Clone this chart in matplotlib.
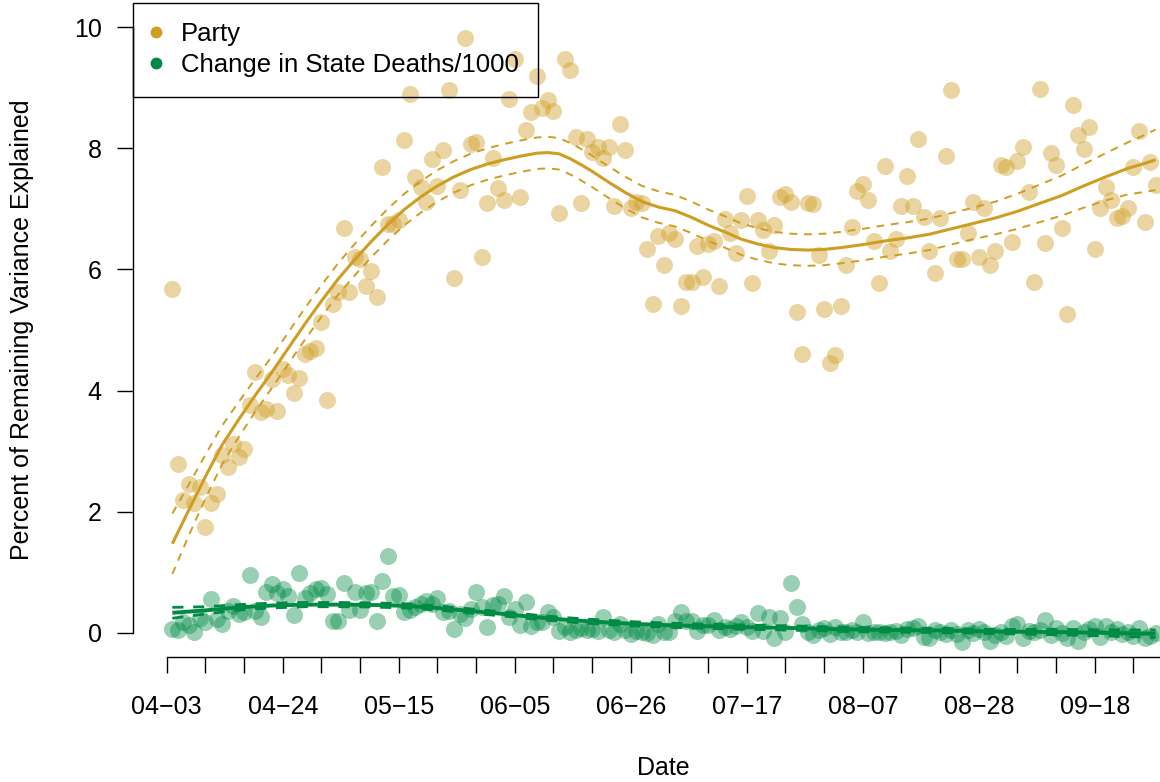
import numpy as np
import matplotlib
matplotlib.use("Agg")
import matplotlib.pyplot as plt
import matplotlib.dates as mdates
from matplotlib.lines import Line2D

plt.rcParams["font.family"] = ["Liberation Sans", "DejaVu Sans"]

# Day 0 of the axis; observations run from day 1 to day 179
START = np.datetime64("2020-04-03")
obs_days = np.arange(1, 180)

# Daily % of remaining variance explained
party_pct = [
    5.67, 2.79, 2.20, 2.45, 2.14, 2.40, 1.75, 2.15, 2.30, 2.93,
    2.74, 3.12, 2.91, 3.03, 3.76, 4.31, 3.65, 3.70, 4.19, 3.67,
    4.35, 4.25, 3.96, 4.21, 4.60, 4.66, 4.71, 5.14, 3.85, 5.43,
    5.63, 6.68, 5.63, 6.20, 6.18, 5.73, 5.98, 5.54, 7.69, 6.75,
    6.75, 6.81, 8.13, 8.90, 7.52, 7.36, 7.11, 7.82, 7.38, 7.97,
    8.97, 5.86, 7.31, 9.82, 8.07, 8.11, 6.20, 7.09, 7.84, 7.34,
    7.15, 8.82, 9.47, 7.20, 8.31, 8.60, 9.19, 8.66, 8.80, 8.62,
    6.94, 9.48, 9.30, 8.19, 7.09, 8.15, 7.94, 8.03, 7.84, 8.03,
    7.05, 8.41, 7.98, 7.01, 7.12, 7.09, 6.33, 5.43, 6.55, 6.08,
    6.60, 6.51, 5.39, 5.79, 5.79, 6.38, 5.87, 6.42, 6.47, 5.73,
    6.83, 6.60, 6.27, 6.81, 7.22, 5.77, 6.81, 6.65, 6.30, 6.74,
    7.20, 7.24, 7.11, 5.29, 4.60, 7.09, 7.08, 6.24, 5.34, 4.45,
    4.59, 5.39, 6.08, 6.70, 7.29, 7.41, 7.14, 6.47, 5.77, 7.71,
    6.31, 6.50, 7.04, 7.54, 7.05, 8.16, 6.87, 6.31, 5.94, 6.85,
    7.87, 8.96, 6.18, 6.18, 6.60, 7.11, 6.20, 7.01, 6.07, 6.30,
    7.72, 7.69, 6.45, 7.79, 8.02, 7.28, 5.79, 8.98, 6.44, 7.93,
    7.72, 6.68, 5.26, 8.71, 8.22, 7.99, 8.35, 6.34, 7.02, 7.36,
    7.14, 6.85, 6.88, 7.02, 7.69, 8.28, 6.79, 7.77, 7.39,
]

deaths_pct = [
    0.06, 0.04, 0.17, 0.13, 0.01, 0.24, 0.17, 0.56, 0.23, 0.15,
    0.36, 0.45, 0.31, 0.34, 0.95, 0.36, 0.26, 0.67, 0.80, 0.65,
    0.72, 0.60, 0.30, 0.99, 0.57, 0.65, 0.72, 0.74, 0.64, 0.19,
    0.19, 0.82, 0.37, 0.68, 0.37, 0.65, 0.68, 0.20, 0.85, 1.26,
    0.60, 0.63, 0.35, 0.37, 0.42, 0.47, 0.52, 0.48, 0.58, 0.34,
    0.36, 0.06, 0.31, 0.25, 0.39, 0.68, 0.43, 0.10, 0.46, 0.48,
    0.60, 0.26, 0.40, 0.13, 0.50, 0.12, 0.17, 0.17, 0.34, 0.26,
    0.03, 0.10, 0.01, 0.04, 0.08, 0.04, 0.06, 0.03, 0.26, 0.04,
    0.01, 0.14, 0.04, -0.02, 0.03, 0.01, -0.01, -0.03, 0.14, 0.02,
    0.02, 0.19, 0.34, 0.20, 0.20, 0.03, 0.13, 0.13, 0.21, 0.04,
    0.10, 0.06, 0.12, 0.17, 0.10, 0.03, 0.32, 0.03, 0.26, -0.09,
    0.24, 0.02, 0.82, 0.43, 0.15, 0.01, -0.03, 0.04, 0.08, -0.02,
    0.10, 0.02, 0.02, 0.04, 0.01, 0.17, -0.01, 0.01, 0.02, -0.01,
    0.01, 0.03, -0.03, 0.06, 0.08, 0.12, -0.07, -0.09, 0.04, 0.01,
    -0.02, 0.04, -0.02, -0.16, 0.04, -0.01, 0.06, 0.01, -0.13, -0.03,
    0.02, -0.05, 0.12, 0.15, -0.09, 0.03, 0.01, 0.04, 0.21, -0.03,
    0.08, -0.01, -0.09, 0.08, -0.13, 0.02, 0.06, 0.12, -0.07, 0.12,
    0.01, 0.06, -0.02, 0.02, -0.05, 0.08, -0.09, -0.05, -0.01,
]

# Smoothed trend with its standard-error band
party_fit_days = [
    1, 4, 7, 10, 13, 16, 19, 22, 25, 28, 31, 34, 37, 40, 43, 46, 49, 52,
    55, 58, 61, 64, 67, 69, 71, 73, 75, 77, 80, 83, 86, 89, 92, 95, 98,
    101, 104, 107, 110, 113, 116, 119, 122, 126, 130, 134, 138, 142, 146,
    150, 154, 158, 162, 166, 170, 174, 177, 179,
]
party_fit = [
    1.47, 2.03, 2.58, 3.10, 3.52, 3.92, 4.30, 4.70, 5.10, 5.48, 5.84, 6.16,
    6.46, 6.74, 6.99, 7.20, 7.38, 7.53, 7.65, 7.74, 7.81, 7.87, 7.92, 7.93,
    7.91, 7.83, 7.73, 7.62, 7.44, 7.27, 7.12, 7.03, 6.97, 6.86, 6.73, 6.62,
    6.50, 6.42, 6.36, 6.33, 6.32, 6.33, 6.36, 6.41, 6.47, 6.52, 6.58, 6.67,
    6.76, 6.85, 6.96, 7.09, 7.22, 7.38, 7.53, 7.67, 7.75, 7.81,
]
party_se = [
    0.50, 0.42, 0.36, 0.32, 0.29, 0.27, 0.26, 0.26, 0.26, 0.26, 0.26, 0.26,
    0.26, 0.26, 0.26, 0.26, 0.26, 0.26, 0.26, 0.26, 0.26, 0.26, 0.26, 0.26,
    0.26, 0.26, 0.26, 0.26, 0.26, 0.26, 0.26, 0.26, 0.26, 0.26, 0.26, 0.26,
    0.26, 0.26, 0.26, 0.26, 0.26, 0.26, 0.26, 0.26, 0.26, 0.26, 0.26, 0.26,
    0.26, 0.27, 0.29, 0.31, 0.33, 0.36, 0.39, 0.43, 0.47, 0.50,
]

deaths_fit_days = [
    1, 7, 13, 19, 25, 31, 37, 43, 49, 55, 61, 67, 73, 79, 85, 91, 97, 103,
    109, 115, 121, 127, 133, 139, 145, 151, 157, 163, 169, 175, 179,
]
deaths_fit = [
    0.33, 0.37, 0.42, 0.45, 0.465, 0.465, 0.46, 0.445, 0.41, 0.36, 0.31,
    0.255, 0.21, 0.175, 0.145, 0.125, 0.11, 0.095, 0.085, 0.075, 0.06, 0.05,
    0.045, 0.04, 0.03, 0.02, 0.015, 0.01, 0.0, -0.01, -0.015,
]
deaths_se = [
    0.09, 0.06, 0.045, 0.04, 0.035, 0.035, 0.035, 0.035, 0.035, 0.035, 0.035,
    0.035, 0.035, 0.035, 0.035, 0.035, 0.035, 0.035, 0.035, 0.035, 0.035,
    0.035, 0.035, 0.035, 0.035, 0.035, 0.04, 0.045, 0.05, 0.055, 0.06,
]

GOLD = "#CF9D22"
GREEN = "#008B45"


def to_dates(days):
    return START + np.asarray(days).astype("timedelta64[D]")


fig = plt.figure(figsize=(11.6, 7.82), dpi=100)
ax = fig.add_axes([133 / 1160, 1 - 657 / 782, 1 - 133 / 1160, (657 - 3) / 782])

ax.scatter(to_dates(obs_days), party_pct, s=150, color=GOLD, alpha=0.42, linewidths=0, zorder=2)
ax.scatter(to_dates(obs_days), deaths_pct, s=150, color=GREEN, alpha=0.4, linewidths=0, zorder=2)

for days, fit, se, col, lw_main, lw_band in [
    (party_fit_days, party_fit, party_se, GOLD, 2.2, 1.4),
    (deaths_fit_days, deaths_fit, deaths_se, GREEN, 2.8, 2.0),
]:
    fit = np.asarray(fit)
    se = np.asarray(se)
    d = to_dates(days)
    ax.plot(d, fit, color=col, lw=lw_main, zorder=3, solid_capstyle="butt")
    ax.plot(d, fit + se, color=col, lw=lw_band, ls=(0, (4, 3.5)), zorder=3)
    ax.plot(d, fit - se, color=col, lw=lw_band, ls=(0, (4, 3.5)), zorder=3)

x0 = mdates.date2num(START)
ax.set_xlim(x0 - 6.12, x0 + 179.8)
ax.set_ylim(-0.4, 10.4)

week_ticks = to_dates(np.arange(0, 176, 7))
tick_labels = []
for i, t in enumerate(week_ticks):
    s = str(t)
    tick_labels.append(s[5:7] + "\u2212" + s[8:10] if i % 3 == 0 else "")
ax.set_xticks(week_ticks)
ax.set_xticklabels(tick_labels)
ax.set_yticks([0, 2, 4, 6, 8, 10])

for side in ["top", "right"]:
    ax.spines[side].set_visible(False)
ax.spines["left"].set_bounds(0, 10)
ax.spines["bottom"].set_bounds(x0, x0 + 179.8)
for side in ["left", "bottom"]:
    ax.spines[side].set_linewidth(1.0)
ax.tick_params(axis="both", direction="out", length=11.5, width=1.0, labelsize=18, colors="black")
ax.tick_params(axis="x", pad=16)
ax.tick_params(axis="y", pad=11)

fig.text(22 / 1160, 1 - 330 / 782, "Percent of Remaining Variance Explained",
         rotation=90, ha="center", va="center", fontsize=18)
fig.text(663 / 1160, 1 - 768 / 782, "Date", ha="center", va="center", fontsize=18)

handles = [
    Line2D([], [], marker="o", ls="none", color=GOLD, markersize=7.5),
    Line2D([], [], marker="o", ls="none", color=GREEN, markersize=7.5),
]
# transparent legend box: points underneath stay visible
leg = ax.legend(handles, ["Party", "Change in State Deaths/1000"], loc="upper left",
                bbox_to_anchor=(0, 1), borderaxespad=0, fontsize=18.5, frameon=True,
                fancybox=False, facecolor="none", edgecolor="black", borderpad=0.75,
                handlelength=0.3, handletextpad=0.8, labelspacing=0.28)
leg.get_frame().set_linewidth(1.0)
leg.get_frame().set_alpha(None)
leg.set_zorder(5)

fig.savefig("out.png", dpi=100)
